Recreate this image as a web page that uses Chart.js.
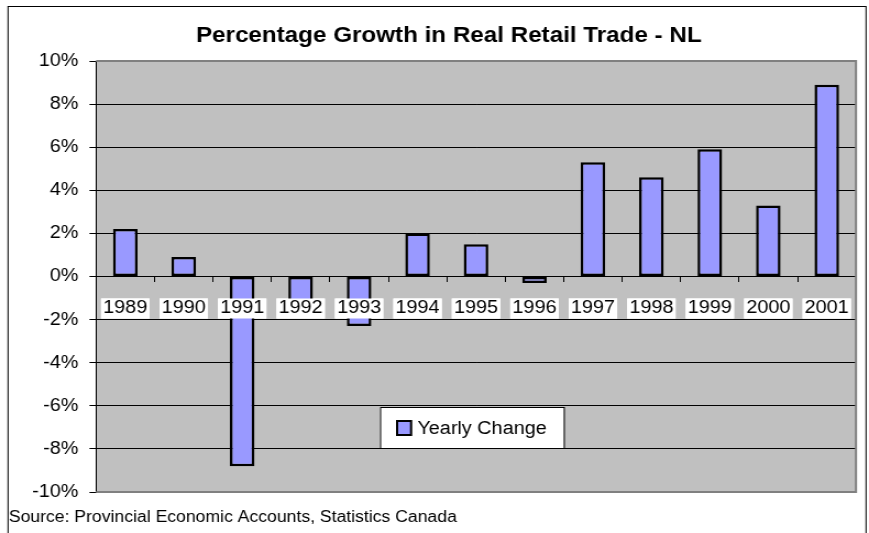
<!DOCTYPE html>
<html>
<head>
<meta charset="utf-8">
<script src="https://cdn.jsdelivr.net/npm/chart.js@4/dist/chart.umd.min.js"></script>
<style>
  html, body { margin: 0; padding: 0; background: #fff; overflow: hidden; }
  /* the drawing is laid out narrow and widened horizontally */
  #wrap { width: 790px; height: 533px; transform: scaleX(1.1); transform-origin: 0 0; }
</style>
</head>
<body>
<div id="wrap"><canvas id="c" width="790" height="533"></canvas></div>
<script>
const years = ['1989', '1990', '1991', '1992', '1993', '1994', '1995', '1996', '1997', '1998', '1999', '2000', '2001'];
const yearlyChange = [2.2, 0.9, -8.8, -1.2, -2.3, 2.0, 1.5, -0.3, 5.3, 4.6, 5.9, 3.3, 8.9];
const percentTicks = [-10, -8, -6, -4, -2, 0, 2, 4, 6, 8, 10];
const seriesName = 'Yearly Change';
const chartTitle = 'Percentage Growth in Real Retail Trade - NL';
const sourceNote = 'Source: Provincial Economic Accounts, Statistics Canada';

const FONT = '"Liberation Sans", Arial, Helvetica, sans-serif';
const yMin = percentTicks[0];
const yMax = percentTicks[percentTicks.length - 1];

// Background, plot frame, title, source line and the boxed legend
const framePlugin = {
  id: 'frame',
  beforeDraw(chart) {
    const { ctx, chartArea: a } = chart;
    ctx.save();
    ctx.fillStyle = '#ffffff';
    ctx.fillRect(0, 0, chart.width, chart.height);
    ctx.fillStyle = '#c0c0c0';
    ctx.fillRect(a.left, a.top, a.right - a.left, a.bottom - a.top);
    ctx.restore();
  },
  afterDatasetsDraw(chart) {
    // year labels sit on top of the bars
    const x = chart.scales.x;
    x.drawBorder();
    x.drawLabels(chart.chartArea);
  },
  afterDraw(chart) {
    const { ctx, chartArea: a } = chart;
    ctx.save();
    // plot border (top, right, bottom)
    ctx.strokeStyle = '#808080';
    ctx.lineWidth = 2;
    ctx.beginPath();
    ctx.moveTo(a.left, a.top);
    ctx.lineTo(a.right, a.top);
    ctx.lineTo(a.right, a.bottom);
    ctx.lineTo(a.left, a.bottom);
    ctx.stroke();

    // outer chart border
    ctx.strokeStyle = '#000';
    ctx.lineWidth = 1;
    ctx.strokeRect(7.3, 6.5, 780, 540);

    // title
    ctx.fillStyle = '#000';
    ctx.font = 'bold 22px ' + FONT;
    ctx.textAlign = 'center';
    ctx.textBaseline = 'alphabetic';
    ctx.fillText(chartTitle, 408, 42);

    // source line
    ctx.font = '16px ' + FONT;
    ctx.textAlign = 'left';
    ctx.fillText(sourceNote, 8, 522);

    // legend box
    const ds = chart.data.datasets[0];
    const lx = 345.5, ly = 407, lw = 167, lh = 41;
    ctx.fillStyle = '#fff';
    ctx.fillRect(lx, ly, lw, lh);
    ctx.strokeStyle = '#000';
    ctx.lineWidth = 1;
    ctx.strokeRect(lx + 0.5, ly + 0.5, lw, lh);
    ctx.fillStyle = ds.backgroundColor;
    ctx.fillRect(361, 421, 12.7, 14);
    ctx.lineWidth = 2;
    ctx.strokeRect(361, 421, 12.7, 14);
    ctx.fillStyle = '#000';
    ctx.font = '18px ' + FONT;
    ctx.fillText(ds.label, 379.5, 434);
    ctx.restore();
  }
};

new Chart(document.getElementById('c'), {
  type: 'bar',
  data: {
    labels: years,
    datasets: [{
      label: seriesName,
      data: yearlyChange,
      backgroundColor: '#9999ff',
      borderColor: '#000',
      borderWidth: 2.5,
      borderSkipped: false,
      categoryPercentage: 1,
      barPercentage: 0.42
    }]
  },
  options: {
    responsive: false,
    animation: false,
    devicePixelRatio: 1,
    layout: { padding: { left: 7.3, top: 61, right: 10, bottom: 41 } },
    plugins: {
      legend: { display: false },
      title: { display: false },
      tooltip: { enabled: false }
    },
    scales: {
      y: {
        position: 'left',
        min: yMin,
        max: yMax,
        afterFit(scale) { scale.width = 80; },
        afterBuildTicks(scale) { scale.ticks = percentTicks.map(v => ({ value: v })); },
        ticks: {
          callback: v => v + '%',
          color: '#000',
          font: { family: FONT, size: 18 },
          padding: 10
        },
        grid: {
          color: ctx => (ctx.tick && (ctx.tick.value === yMin || ctx.tick.value === yMax)) ? 'rgba(0,0,0,0)' : '#000',
          tickColor: '#000',
          lineWidth: 1,
          tickLength: 6
        },
        border: { display: true, color: '#000', width: 1 }
      },
      x: {
        type: 'category',
        position: { y: 0 },
        offset: true,
        grid: {
          offset: true,
          drawOnChartArea: false,
          drawTicks: true,
          tickLength: 5,
          color: '#000'
        },
        border: { display: true, color: '#000', width: 1 },
        ticks: {
          autoSkip: false,
          maxRotation: 0,
          minRotation: 0,
          color: '#000',
          font: { family: FONT, size: 18, lineHeight: 1 },
          padding: 18,
          showLabelBackdrop: true,
          backdropColor: '#ffffff',
          backdropPadding: { top: 1, bottom: 1, left: 2, right: 2 }
        }
      }
    }
  },
  plugins: [framePlugin]
});
</script>
</body>
</html>
